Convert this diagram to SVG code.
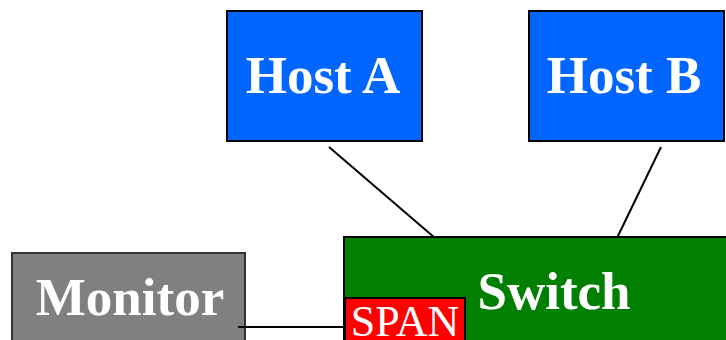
<svg xmlns="http://www.w3.org/2000/svg" width="726" height="340" viewBox="0 0 726 340">
  <style>
    .box { stroke: #000; stroke-width: 2; }
    .host { fill: #0066ff; }
    .label { font-family: "Liberation Serif", "Times New Roman", serif; font-weight: bold; font-size: 53px; fill: #fff; text-anchor: middle; }
    .wire { stroke: #000; stroke-width: 2; fill: none; }
  </style>
  <rect width="726" height="340" fill="#fff"/>
  <g id="host-a">
    <rect class="box host" x="227" y="11" width="195" height="130"/>
    <text class="label" x="323" y="93">Host A</text>
  </g>
  <g id="host-b">
    <rect class="box host" x="529" y="11" width="195" height="130"/>
    <text class="label" x="624" y="93">Host B</text>
  </g>
  <g id="monitor">
    <rect x="12" y="253" width="233" height="100" fill="#808080" stroke="#333" stroke-width="2"/>
    <text class="label" x="130" y="315">Monitor</text>
  </g>
  <g id="switch">
    <rect class="box" x="344" y="237" width="400" height="120" fill="#007f00"/>
    <text class="label" x="554" y="309">Switch</text>
  </g>
  <g id="span">
    <rect class="box" x="345" y="298" width="120" height="60" fill="#ff0000"/>
    <text x="405" y="336" font-family="Liberation Serif, 'Times New Roman', serif" font-size="44" fill="#fff" text-anchor="middle">SPAN</text>
  </g>
  <!-- links drawn last so the monitor link shows over the monitor box edge -->
  <g id="connectors">
    <line class="wire" x1="329" y1="147" x2="435" y2="238"/>
    <line class="wire" x1="661" y1="147" x2="617" y2="238"/>
    <line class="wire" x1="238" y1="327" x2="345" y2="327"/>
  </g>
</svg>
